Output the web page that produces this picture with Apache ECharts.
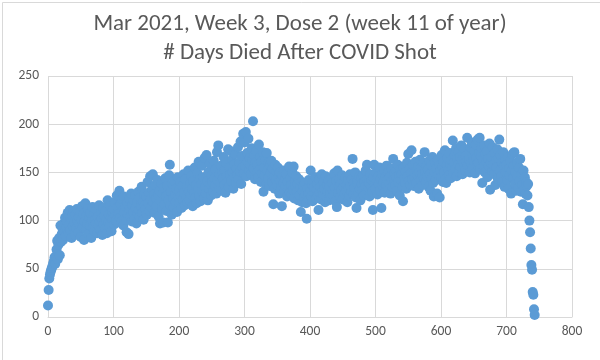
<!DOCTYPE html>
<html>
<head>
<meta charset="utf-8">
<script src="https://cdn.jsdelivr.net/npm/echarts@6/dist/echarts.min.js"></script>
<style>
html,body{margin:0;padding:0;background:#fff;}
#chart{width:600px;height:360px;}
</style>
</head>
<body>
<div id="chart"></div>
<script>
const titleLines = ["Mar 2021, Week 3, Dose 2 (week 11 of year)", "# Days Died After COVID Shot"];
const xTicks = [0, 100, 200, 300, 400, 500, 600, 700, 800];
const yTicks = [0, 50, 100, 150, 200, 250];
const firstDay = 0;
// deaths per day after the shot (index = day offset from firstDay)
const deaths000 = [12,28,40,44,47,49,51,53,56,58, 62,55,63,70,79,60,75,82,64,95,
  78,86,92,80,97,88,103,84,93,99, 108,87,96,111,90,102,82,105,94,110,
  98,85,106,92,112,100,88,104,96,109, 83,101,115,93,107,80,99,118,91,105,
  97,112,86,103,95,108,82,100,114,92, 106,89,101,97,111,87,104,95,116,99,
  90,108,102,85,113,96,105,92,110,100, 87,121,98,106,94,115,103,89,109,101];
const deaths100 = [112,96,119,105,100,126,98,114,107,131, 103,117,99,122,110,95,125,108,115,101,
  88,118,106,86,123,112,104,128,99,116, 109,121,102,126,113,97,119,107,130,111,
  104,124,115,135,108,120,101,127,117,112, 125,106,140,118,129,110,146,122,114,133,
  148,119,127,108,137,123,115,142,126,104, 131,97,120,139,112,128,98,134,117,144,
  125,110,136,98,121,147,158,116,130,106, 138,123,114,141,127,119,133,109,145,125];
const deaths200 = [131,118,140,126,113,136,122,148,129,116, 143,124,135,119,152,130,121,139,127,146,
  133,115,141,128,155,124,137,118,149,132, 161,126,143,120,138,157,130,145,123,165,
  135,128,168,141,121,150,133,159,138,126, 147,140,130,162,144,136,153,128,171,142,
  178,134,148,139,157,131,150,144,166,137, 152,129,160,146,140,174,135,155,148,172,
  141,163,150,133,158,145,169,139,154,147, 176,143,160,151,182,138,167,155,190,149];
const deaths300 = [181,157,192,146,170,161,185,152,165,158, 148,175,163,203,154,168,143,160,172,150,
  158,145,179,153,166,140,161,149,171,130, 155,147,163,138,170,152,144,160,136,157,
  149,162,140,154,117,146,133,158,142,151, 137,155,145,128,150,141,134,115,147,139,
  152,131,143,136,148,125,140,133,156,129, 144,137,127,150,132,156,123,141,135,146,
  130,138,121,143,126,134,109,140,119,131, 136,124,139,128,118,102,133,127,142,122];
const deaths400 = [130,152,125,137,120,141,134,128,145,123, 132,138,126,111,143,129,135,122,148,131,
  127,140,133,119,146,125,137,130,142,121, 135,128,144,123,139,131,126,149,134,120,
  141,114,152,129,136,143,125,138,132,147, 122,135,140,128,145,131,137,119,142,133,
  126,148,136,130,143,164,127,139,134,150, 124,113,141,137,129,146,133,121,144,138,
  131,147,126,140,135,152,128,158,143,134, 139,125,148,136,142,130,111,145,158,137];
const deaths500 = [133,150,141,127,146,138,155,131,143,113, 148,136,140,152,129,145,137,157,142,134,
  150,139,146,128,154,141,135,164,143,149, 137,152,145,131,158,140,147,126,153,142,
  148,135,120,155,144,139,151,133,160,146, 169,141,154,137,149,173,143,158,136,150,
  145,161,139,152,147,156,133,150,163,142, 155,148,137,160,144,171,151,140,157,146,
  153,135,162,148,131,158,144,166,139,125, 150,160,142,154,128,163,147,157,124,152];
const deaths600 = [145,168,156,140,161,150,173,143,139,158, 165,152,147,170,159,144,163,155,183,149,
  160,168,153,175,146,164,158,171,150,166, 156,178,162,148,170,159,174,152,167,161,
  186,157,169,163,150,176,160,181,154,168, 162,172,149,179,165,158,184,160,170,186,
  153,167,175,139,163,156,178,150,169,161, 172,145,164,157,180,132,160,166,151,176,
  158,148,170,137,162,155,174,143,165,184, 152,168,146,160,140,171,156,135,163,150];
const deaths700 = [158,142,166,133,154,147,162,128,152,169, 144,157,171,138,150,131,160,146,135,155,
  141,164,130,148,137,117,152,133,145,128, 140,136,126,138,114,100,88,71,54,49,
  26,23,8,2];

const deaths = [].concat(deaths000, deaths100, deaths200, deaths300, deaths400, deaths500, deaths600, deaths700);
const points = deaths.map((v, i) => [firstDay + i, v]);

const chart = echarts.init(document.getElementById('chart'), null, {renderer: 'canvas'});
const font = "Calibri, Carlito, 'Open Sans', 'Liberation Sans', sans-serif";
const grey = '#595959';
chart.setOption({
  animation: false,
  backgroundColor: '#fff',
  title: {
    text: titleLines.join('\n'),
    left: 'center',
    top: 5,
    textStyle: {fontFamily: font, fontSize: 23, fontWeight: 'normal', color: grey, lineHeight: 29}
  },
  grid: {left: 48, right: 28, top: 76, bottom: 43, containLabel: false},
  xAxis: {
    type: 'value', min: xTicks[0], max: xTicks[xTicks.length - 1], interval: 100,
    axisLine: {show: true, lineStyle: {color: '#d9d9d9'}},
    axisTick: {show: false},
    axisLabel: {color: grey, fontFamily: font, fontSize: 13.5, margin: 8},
    splitLine: {show: true, lineStyle: {color: '#d9d9d9', width: 1}}
  },
  yAxis: {
    type: 'value', min: yTicks[0], max: yTicks[yTicks.length - 1], interval: 50,
    axisLine: {show: false},
    axisTick: {show: false},
    axisLabel: {color: grey, fontFamily: font, fontSize: 13.5, margin: 9},
    splitLine: {show: true, lineStyle: {color: '#d9d9d9', width: 1}}
  },
  series: [{
    type: 'scatter',
    data: points,
    symbol: 'circle',
    symbolSize: 10,
    itemStyle: {color: '#5b9bd5', opacity: 1},
    emphasis: {disabled: true}
  }],
  graphic: [{
    type: 'rect', left: 0, top: 0, z: -1,
    shape: {x: 0.5, y: 0.5, width: 599, height: 359},
    style: {fill: 'none', stroke: '#d9d9d9', lineWidth: 1}
  }]
});
</script>
</body>
</html>
